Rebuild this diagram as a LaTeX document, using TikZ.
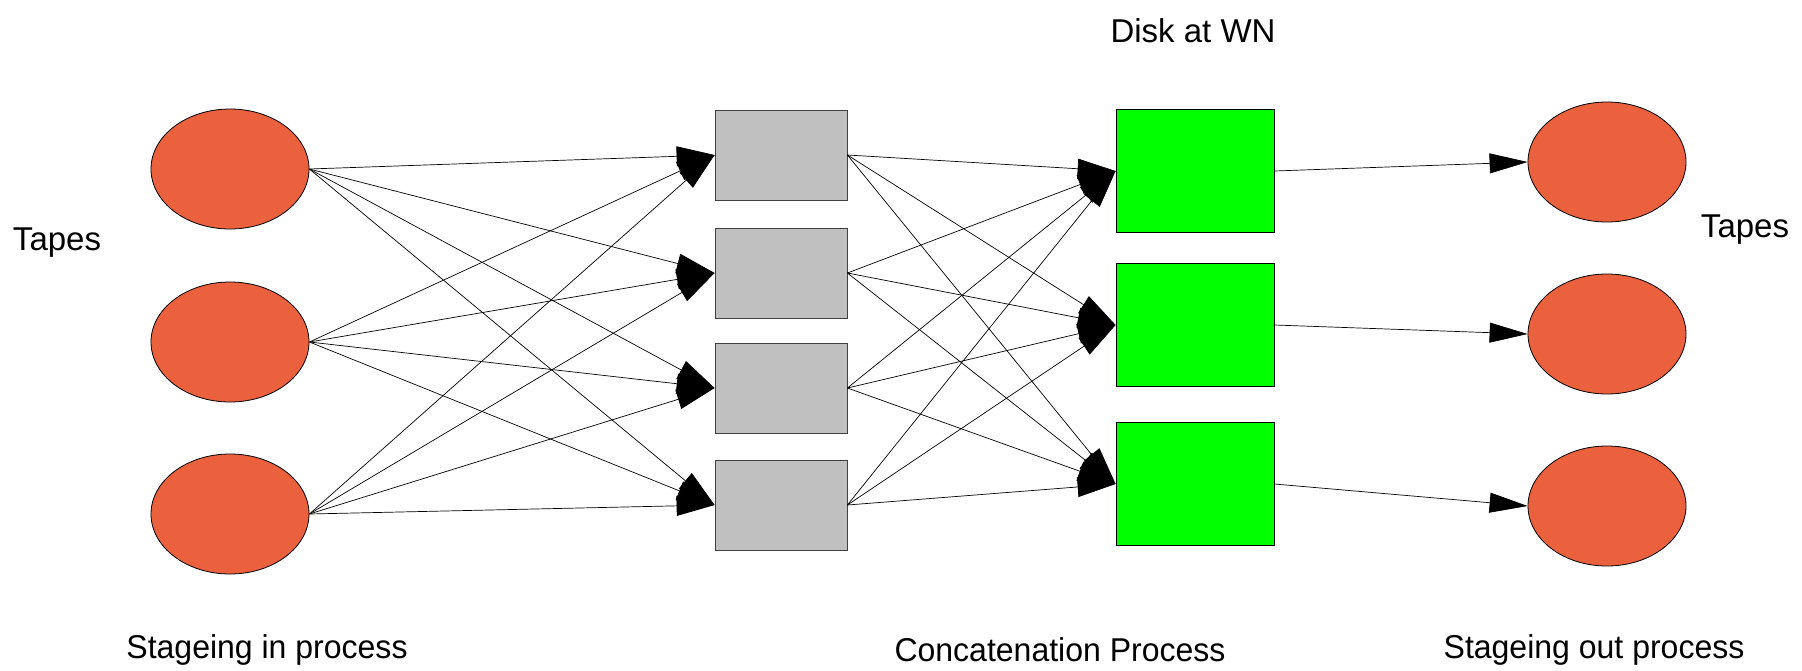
\documentclass[tikz,border=0pt]{standalone}
\usepackage{fontspec}
\setmainfont{Liberation Sans}
\usetikzlibrary{arrows.meta,shapes.geometric}
\definecolor{tape}{RGB}{235,97,61}
\definecolor{stage}{RGB}{192,192,192}
\definecolor{disk}{RGB}{0,255,0}
\begin{document}
\begin{tikzpicture}[x=1pt,y=-1pt,
  tapenode/.style={ellipse,draw=black,fill=tape,line width=0.8pt,minimum width=158pt,minimum height=120pt,inner sep=0pt},
  stagenode/.style={rectangle,draw=black!75,fill=stage,line width=0.8pt,minimum width=132pt,minimum height=90pt,inner sep=0pt},
  disknode/.style={rectangle,draw=black,fill=disk,line width=0.8pt,minimum width=158pt,minimum height=123pt,inner sep=0pt},
  lbl/.style={font=\fontsize{33}{39}\selectfont,inner sep=0pt},
  conn/.style={draw=black,line width=0.7pt,-{Triangle[length=38pt,width=20pt]}}]
\useasboundingbox (0,0) rectangle (1802,670);
% left tapes
\node[tapenode] (t1) at (230,169) {};
\node[tapenode] (t2) at (230,342) {};
\node[tapenode] (t3) at (230,514) {};
% staging boxes
\node[stagenode] (s1) at (781,155) {};
\node[stagenode] (s2) at (781,273) {};
\node[stagenode] (s3) at (781,388) {};
\node[stagenode] (s4) at (781,505) {};
% disks
\node[disknode] (d1) at (1195,171) {};
\node[disknode] (d2) at (1195,325) {};
\node[disknode] (d3) at (1195,484) {};
% right tapes
\node[tapenode] (r1) at (1607,162) {};
\node[tapenode] (r2) at (1607,334) {};
\node[tapenode] (r3) at (1607,506) {};
% connectors
\foreach \t in {t1,t2,t3}{
  \foreach \s in {s1,s2,s3,s4}{
    \draw[conn] (\t.east) -- (\s.west);
  }
}
\foreach \s in {s1,s2,s3,s4}{
  \foreach \d in {d1,d2,d3}{
    \draw[conn] (\s.east) -- (\d.west);
  }
}
\draw[conn] (d1.east) -- (r1.west);
\draw[conn] (d2.east) -- (r2.west);
\draw[conn] (d3.east) -- (r3.west);
% labels
\node[lbl] (lt) at (57,243) {Tapes};
\node[lbl] (rt) at (1745,230) {Tapes};
\node[lbl] (dw) at (1193,31) {Disk at WN};
\node[lbl] (b1) at (267,650) {\scalebox{0.97}[1]{Stageing in process}};
\node[lbl] (b2) at (1060,650) {\scalebox{0.97}[1]{Concatenation Process}};
\node[lbl] (b3) at (1594,650) {\scalebox{0.97}[1]{Stageing out process}};
\end{tikzpicture}
\end{document}
